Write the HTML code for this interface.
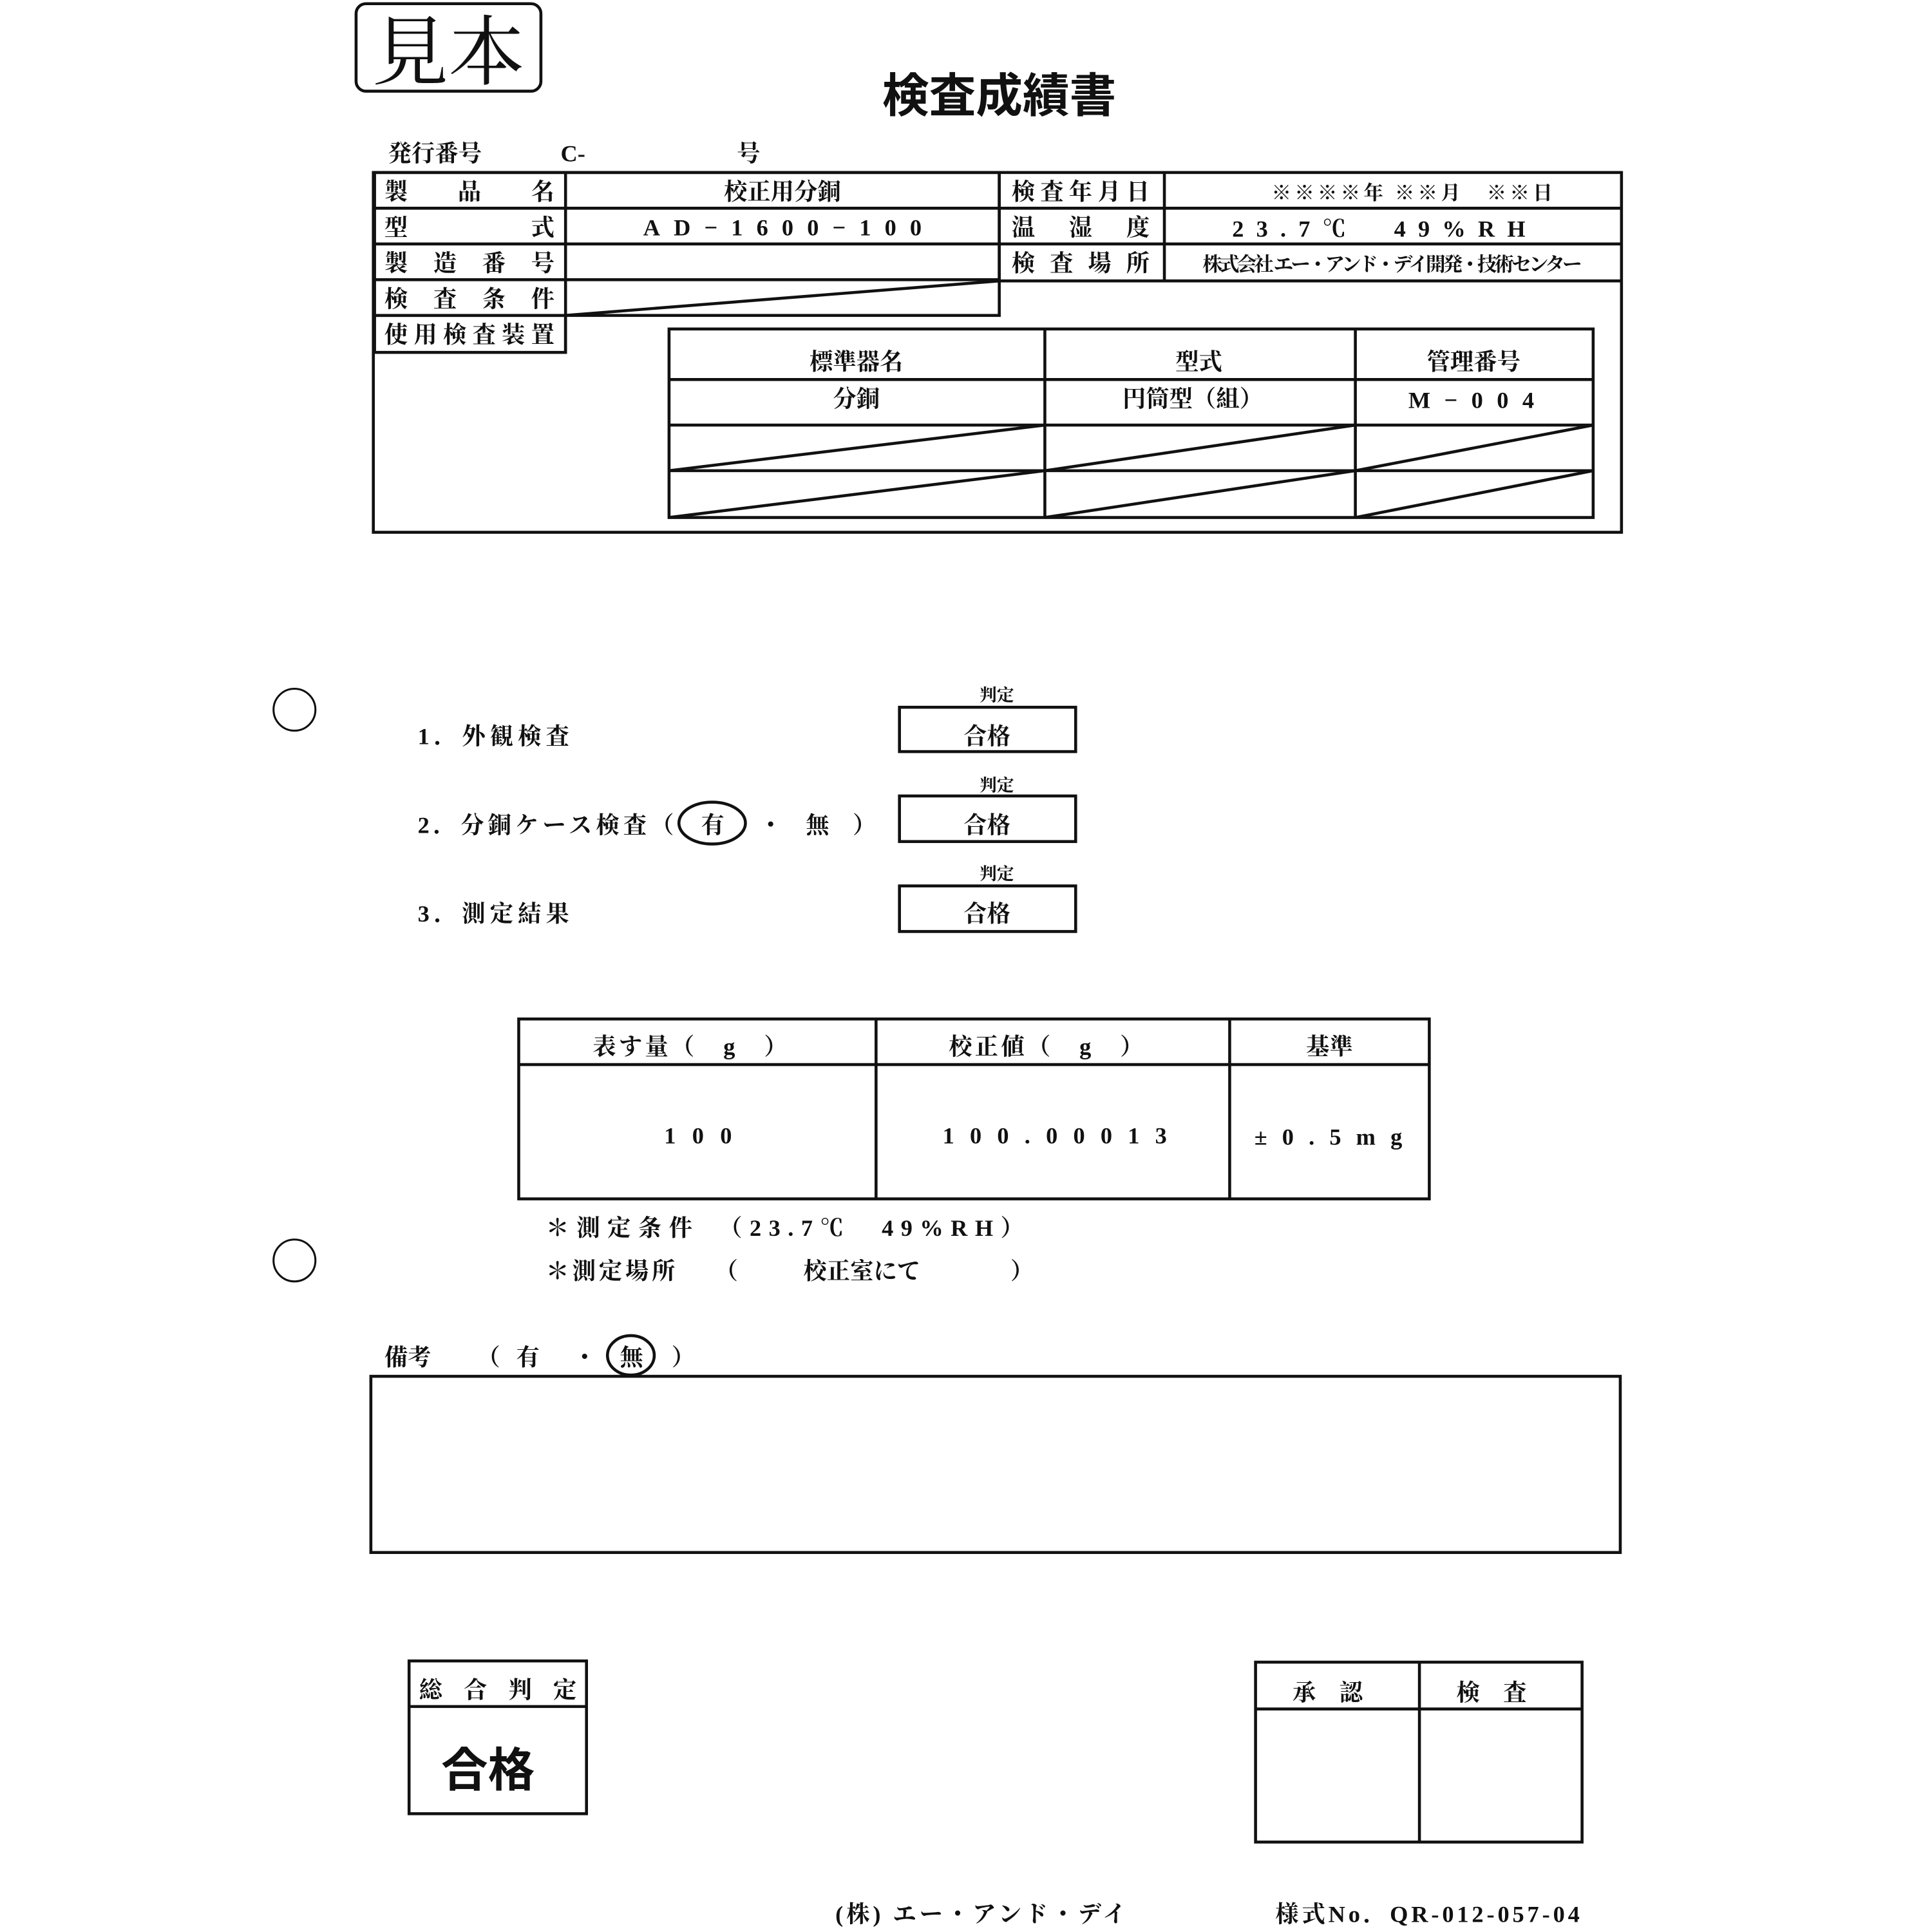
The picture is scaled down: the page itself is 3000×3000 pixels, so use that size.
<!DOCTYPE html>
<html><head><meta charset="utf-8"><style>
html,body{margin:0;padding:0;background:#fff}
svg{display:block}
text{font-family:"Liberation Serif","Noto Serif CJK SC","Noto Sans CJK JP",serif;fill:#111}
.s{font-family:"Liberation Sans","Noto Sans CJK JP",sans-serif;font-weight:bold}
</style></head><body>
<svg width="3000" height="3000" viewBox="0 0 1568 1568" xmlns="http://www.w3.org/2000/svg">
<g fill="none" stroke="#111" stroke-width="2.4">
<rect x="289" y="3" width="150" height="71" rx="8"/>
<rect x="303" y="140" width="1013" height="292"/>
<rect x="304" y="140" width="507" height="116"/>
<line x1="459" y1="140" x2="459" y2="286"/>
<line x1="304" y1="169" x2="811" y2="169"/>
<line x1="304" y1="198" x2="811" y2="198"/>
<line x1="304" y1="227" x2="811" y2="227"/>
<rect x="304" y="256" width="155" height="30"/>
<line x1="459" y1="256" x2="811" y2="228"/>
<line x1="811" y1="140" x2="811" y2="228"/>
<line x1="945" y1="140" x2="945" y2="228"/>
<line x1="811" y1="169" x2="1316" y2="169"/>
<line x1="811" y1="198" x2="1316" y2="198"/>
<line x1="811" y1="228" x2="1316" y2="228"/>
<rect x="543" y="267" width="750" height="153"/>
<line x1="848" y1="267" x2="848" y2="420"/>
<line x1="1100" y1="267" x2="1100" y2="420"/>
<line x1="543" y1="308" x2="1293" y2="308"/>
<line x1="543" y1="345" x2="1293" y2="345"/>
<line x1="543" y1="382" x2="1293" y2="382"/>
<line x1="543" y1="382" x2="848" y2="345"/>
<line x1="848" y1="382" x2="1100" y2="345"/>
<line x1="1100" y1="382" x2="1293" y2="345"/>
<line x1="543" y1="420" x2="848" y2="382"/>
<line x1="848" y1="420" x2="1100" y2="382"/>
<line x1="1100" y1="420" x2="1293" y2="382"/>
<circle cx="239" cy="576" r="17" stroke-width="1.6"/>
<circle cx="239" cy="1023" r="17" stroke-width="1.6"/>
<rect x="730" y="574" width="143" height="36"/>
<rect x="730" y="646" width="143" height="37"/>
<rect x="730" y="719" width="143" height="37"/>
<ellipse cx="578" cy="668" rx="27" ry="17"/>
<rect x="421" y="827" width="739" height="146"/>
<line x1="711" y1="827" x2="711" y2="973"/>
<line x1="998" y1="827" x2="998" y2="973"/>
<line x1="421" y1="864" x2="1160" y2="864"/>
<ellipse cx="512" cy="1100" rx="19" ry="16"/>
<rect x="301" y="1117" width="1014" height="143"/>
<rect x="332" y="1348" width="144" height="124"/>
<line x1="332" y1="1385" x2="476" y2="1385"/>
<rect x="1019" y="1349" width="265" height="146"/>
<line x1="1152" y1="1349" x2="1152" y2="1495"/>
<line x1="1019" y1="1387" x2="1284" y2="1387"/>
</g>
<text x="364" y="64" font-size="62" text-anchor="middle">見本</text>
<text x="811" y="91" font-size="38" text-anchor="middle" class="s">検査成績書</text>
<g font-size="19" class="s">
<text x="315" y="131">発行番号</text>
<text x="455" y="131">C-</text>
<text x="598" y="131">号</text>
<text x="312" y="162" textLength="138">製品名</text>
<text x="312" y="191" textLength="138">型　　　　　式</text>
<text x="312" y="220" textLength="138">製造番号</text>
<text x="312" y="249" textLength="138">検査条件</text>
<text x="312" y="278" textLength="138">使用検査装置</text>
<text x="635" y="162" text-anchor="middle">校正用分銅</text>
<text x="522" y="191" textLength="226">AD−1600−100</text>
<text x="821" y="162" textLength="112">検査年月日</text>
<text x="821" y="191" textLength="112">温　湿　度</text>
<text x="821" y="220" textLength="112">検査場所</text>
<text x="1032" y="162" font-size="16" textLength="228">※※※※年 ※※月　※※日</text>
<text x="1000" y="192" textLength="238">23.7℃　49%RH</text>
<text x="976" y="220" font-size="16" textLength="308">株式会社 エー・アンド・デイ開発・技術センター</text>
<text x="695" y="300" text-anchor="middle">標準器名</text>
<text x="973" y="300" text-anchor="middle">型式</text>
<text x="1196" y="300" text-anchor="middle">管理番号</text>
<text x="695" y="330" text-anchor="middle">分銅</text>
<text x="968" y="330" text-anchor="middle">円筒型（組）</text>
<text x="1143" y="331" textLength="102">M−004</text>
<text x="809" y="569" font-size="14" text-anchor="middle">判定</text>
<text x="809" y="642" font-size="14" text-anchor="middle">判定</text>
<text x="809" y="714" font-size="14" text-anchor="middle">判定</text>
<text x="339" y="604" textLength="123">1．外観検査</text>
<text x="339" y="676" textLength="208">2．分銅ケース検査（</text>
<text x="569" y="676">有</text>
<text x="616" y="676">・</text>
<text x="654" y="676">無</text>
<text x="692" y="676">）</text>
<text x="339" y="748" textLength="123">3．測定結果</text>
<text x="801" y="604" text-anchor="middle">合格</text>
<text x="801" y="676" text-anchor="middle">合格</text>
<text x="801" y="748" text-anchor="middle">合格</text>
<text x="481" y="856" textLength="158">表す量（　g　）</text>
<text x="770" y="856" textLength="158">校正値（　g　）</text>
<text x="1079" y="856" text-anchor="middle">基準</text>
<text x="539" y="928" textLength="55">100</text>
<text x="765" y="928" textLength="182">100.00013</text>
<text x="1018" y="929" textLength="120">±0.5mg</text>
<text x="443" y="1003" textLength="388">＊測定条件　（23.7℃　49%RH）</text>
<text x="443" y="1038" textLength="105">＊測定場所</text>
<text x="580" y="1038">（</text>
<text x="652" y="1038">校正室にて</text>
<text x="820" y="1038">）</text>
<text x="312" y="1108">備考</text>
<text x="387" y="1108">（</text>
<text x="419" y="1108">有</text>
<text x="465" y="1108">・</text>
<text x="503" y="1108">無</text>
<text x="545" y="1108">）</text>
<text x="340" y="1378" textLength="128">総合判定</text>
<text x="1049" y="1380">承　認</text>
<text x="1182" y="1380">検　査</text>
<text x="678" y="1560" textLength="236">(株) エー・アンド・デイ</text>
<text x="1035" y="1560" textLength="247">様式No．QR-012-057-04</text>
</g>
<text x="396" y="1450" font-size="38" text-anchor="middle" class="s">合格</text>
</svg>
</body></html>
